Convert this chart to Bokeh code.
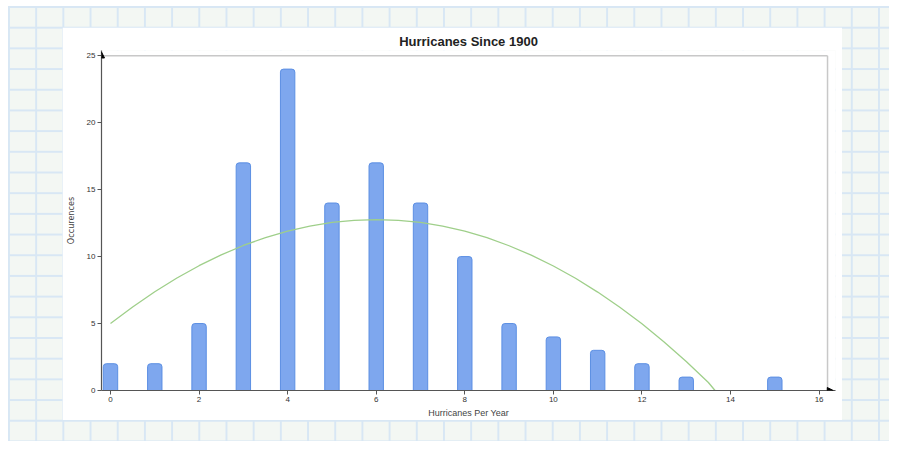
from bokeh.plotting import figure
from bokeh.layouts import column
from bokeh.models import Range1d, FixedTicker, Arrow, NormalHead, ColumnDataSource
from bokeh.embed import file_html
from bokeh.resources import INLINE

# ---- data ----
hurricanes_per_year = [0, 1, 2, 3, 4, 5, 6, 7, 8, 9, 10, 11, 12, 13, 14, 15]
occurrences = [2, 2, 5, 17, 24, 14, 17, 14, 10, 5, 4, 3, 2, 1, 0, 1]

trend_x = [0, 0.5, 1, 1.5, 2, 2.5, 3, 3.5, 4, 4.5, 5, 5.5, 6, 6.5, 7, 7.5, 8,
           8.5, 9, 9.5, 10, 10.5, 11, 11.5, 12, 12.5, 13, 13.5, 13.65]
trend_y = [5.0, 6.24, 7.37, 8.40, 9.32, 10.13, 10.83, 11.42, 11.90, 12.28, 12.55,
           12.71, 12.76, 12.71, 12.55, 12.28, 11.90, 11.41, 10.81, 10.11, 9.30,
           8.38, 7.35, 6.22, 4.98, 3.63, 2.17, 0.60, 0.0]

x_ticks = [0, 2, 4, 6, 8, 10, 12, 14, 16]
y_ticks = [0, 5, 10, 15, 20, 25]

X_START, X_END = -0.203, 16.37
Y_START, Y_END = 0, 25.39
X_BORDER, Y_BORDER = 16.19, 25
X_TIP, Y_TIP = 16.32, 25.28

FONT = "Liberation Sans"

p = figure(width=780, height=393, output_backend="svg", toolbar_location=None,
           x_range=Range1d(X_START, X_END), y_range=Range1d(Y_START, Y_END),
           min_border_left=38, min_border_right=7, min_border_top=23,
           min_border_bottom=28, margin=(21, 0, 0, 54),
           title="Hurricanes Since 1900")
p.background_fill_color = "white"
p.border_fill_color = "white"
p.outline_line_color = None
p.xgrid.visible = False
p.ygrid.visible = False

p.title.align = "center"
p.title.text_font = FONT
p.title.text_font_size = "13px"
p.title.text_font_style = "bold"
p.title.text_color = "#222222"
p.title.offset = 0
p.title.standoff = 4

# frame border lines (top and right)
p.segment(x0=[X_START, X_BORDER], y0=[Y_BORDER, 0], x1=[X_BORDER, X_BORDER],
          y1=[Y_BORDER, Y_BORDER], line_color="#c8c8c8", line_width=1.5)

src = ColumnDataSource(dict(x=hurricanes_per_year, top=occurrences))
p.vbar(x="x", top="top", width=0.325, bottom=0, source=src,
       fill_color="#7ea7ee", line_color="#5c8fe3", line_width=1,
       border_radius=(3, 3, 0, 0))

p.line(trend_x, trend_y, line_color="#9fcf8a", line_width=1.3)

for ax in (p.xaxis[0], p.yaxis[0]):
    ax.axis_line_color = "#555555"
    ax.axis_line_width = 1.2
    ax.major_tick_line_color = "#555555"
    ax.major_tick_out = 4
    ax.major_tick_in = 0
    ax.minor_tick_line_color = None
    ax.major_label_text_font = FONT
    ax.major_label_text_font_size = "8px"
    ax.major_label_text_color = "#333333"
    ax.axis_label_text_font = FONT
    ax.axis_label_text_font_size = "9px"
    ax.axis_label_text_font_style = "normal"
    ax.axis_label_text_color = "#444444"
    ax.major_label_standoff = 2

p.xaxis.ticker = FixedTicker(ticks=x_ticks)
p.yaxis.ticker = FixedTicker(ticks=y_ticks)
p.xaxis.axis_label = "Hurricanes Per Year"
p.yaxis.axis_label = "Occurences"
p.xaxis.axis_label_standoff = 3
p.yaxis.axis_label_standoff = 8
p.yaxis.axis_label_text_font = "DejaVu Sans Condensed, Liberation Sans"

p.add_layout(Arrow(end=NormalHead(size=6, fill_color="black", line_color="black"),
                   x_start=X_BORDER - 0.3, y_start=0, x_end=X_TIP, y_end=0,
                   line_alpha=0))
p.add_layout(Arrow(end=NormalHead(size=6, fill_color="black", line_color="black"),
                   x_start=X_START, y_start=Y_BORDER - 0.5, x_end=X_START, y_end=Y_TIP,
                   line_alpha=0))

layout = column(p, width=881, height=435, sizing_mode="fixed", margin=(6, 0, 0, 8),
                styles={
    "background-color": "#f3f7f3",
    "background-image": "linear-gradient(to right, #d8e7f4 1.5px, transparent 1.5px), "
                        "linear-gradient(to bottom, #d8e7f4 1.5px, transparent 1.5px)",
    "background-size": "27.2px 20.7px",
    "background-position": "0px 0px",
})

open("out.html", "w").write(file_html(layout, INLINE))
